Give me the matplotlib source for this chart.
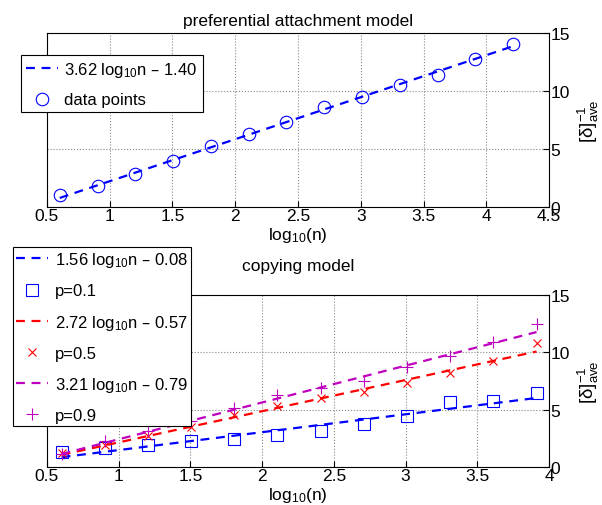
import matplotlib
matplotlib.use('Agg')
import matplotlib.pyplot as plt
import numpy as np

plt.rcParams['font.family'] = ['Liberation Sans', 'DejaVu Sans']
plt.rcParams['mathtext.default'] = 'regular'
plt.rcParams['font.size'] = 12.5

# 数据 - 优先连接模型
pa_x = [0.602, 0.903, 1.204, 1.505, 1.806, 2.107, 2.408, 2.709, 3.010, 3.311, 3.612, 3.913, 4.214]
pa_y = [1.03, 1.82, 2.88, 3.94, 5.28, 6.28, 7.35, 8.60, 9.50, 10.53, 11.37, 12.77, 14.05]
pa_fit = (3.62, -1.40)

# 数据 - 复制模型
cp_x = [0.602, 0.903, 1.204, 1.505, 1.806, 2.107, 2.408, 2.709, 3.010, 3.311, 3.612, 3.913]
cp_p1 = [1.30, 1.65, 1.94, 2.26, 2.47, 2.81, 3.16, 3.71, 4.44, 5.66, 5.74, 6.44]
cp_p5 = [1.25, 1.90, 2.70, 3.50, 4.50, 5.28, 6.00, 6.58, 7.34, 8.18, 9.22, 10.79]
cp_p9 = [1.16, 2.29, 3.10, 4.00, 5.13, 6.24, 6.90, 7.54, 8.70, 9.72, 10.88, 12.45]
cp_fits = [(1.56, -0.08), (2.72, -0.57), (3.21, -0.79)]
cp_labels = ['p=0.1', 'p=0.5', 'p=0.9']

ylab = r'$[\delta]^{-1}_{ave}$'


def fit_label(a, b):
    return '%.2f log$_{10}$n \u2013 %.2f' % (a, -b)


def style_axes(ax, xlim, xticks):
    ax.set_xlim(*xlim)
    ax.set_xticks(xticks)
    ax.set_xticklabels(['%g' % t for t in xticks])
    ax.set_ylim(0, 15)
    ax.set_yticks([0, 5, 10, 15])
    ax.yaxis.tick_right()
    ax.yaxis.set_label_position('right')
    ax.tick_params(direction='in', length=4, width=0.8, labelsize=12.5, pad=1)
    ax.grid(True, linestyle=':', color='#888888', linewidth=0.8)
    ax.set_xlabel('log$_{10}$(n)', labelpad=1)
    ax.set_ylabel(ylab, labelpad=4, fontsize=13.5)
    for s in ax.spines.values():
        s.set_linewidth(0.8)


fig = plt.figure(figsize=(6.02, 5.06), dpi=100)

# 上图
ax1 = fig.add_axes([0.078, 0.589, 0.834, 0.344])
xs = np.array(pa_x)
ax1.plot(xs, pa_fit[0] * xs + pa_fit[1], '--', color='#0000ff', linewidth=1.6,
         dashes=(4, 3), label=fit_label(*pa_fit))
ax1.plot(pa_x, pa_y, 'o', mfc='none', mec='#0000ff', ms=9, mew=0.8, label='data points')
style_axes(ax1, (0.5, 4.5), [0.5, 1, 1.5, 2, 2.5, 3, 3.5, 4, 4.5])
ax1.set_title('preferential attachment model', fontsize=12.5, pad=6)
leg1 = ax1.legend(loc='upper left', bbox_to_anchor=(0.035, 0.889), bbox_transform=fig.transFigure,
                  borderaxespad=0, fancybox=False, framealpha=1, edgecolor='black', fontsize=12,
                  handlelength=1.9, labelspacing=0.8, borderpad=0.3, handletextpad=0.4)
leg1.get_frame().set_linewidth(0.8)

# 下图
ax2 = fig.add_axes([0.078, 0.075, 0.834, 0.340])
xs = np.array(cp_x)
colors = ['#0000ff', '#ff0000', '#bf00bf']
markers = ['s', 'x', '+']
msizes = [8, 6, 9]
series = [cp_p1, cp_p5, cp_p9]
for (a, b), ys, c, m, msz, lab in zip(cp_fits, series, colors, markers, msizes, cp_labels):
    ax2.plot(xs, a * xs + b, '--', color=c, linewidth=1.6, dashes=(4, 3), label=fit_label(a, b))
    if m == 's':
        ax2.plot(cp_x, ys, m, mfc='none', mec=c, ms=msz, mew=0.8, label=lab)
    else:
        ax2.plot(cp_x, ys, m, color=c, ms=msz, mew=0.8, label=lab)
style_axes(ax2, (0.5, 4), [0.5, 1, 1.5, 2, 2.5, 3, 3.5, 4])
ax2.set_title('copying model', fontsize=12.5, pad=18)
leg2 = ax2.legend(loc='upper left', bbox_to_anchor=(0.0216, 0.51), bbox_transform=fig.transFigure,
                  borderaxespad=0, fancybox=False, framealpha=1, edgecolor='black', fontsize=12,
                  handlelength=1.9, labelspacing=0.85, borderpad=0.2, handletextpad=0.4)
leg2.get_frame().set_linewidth(0.8)

fig.savefig('out.png', dpi=100)
